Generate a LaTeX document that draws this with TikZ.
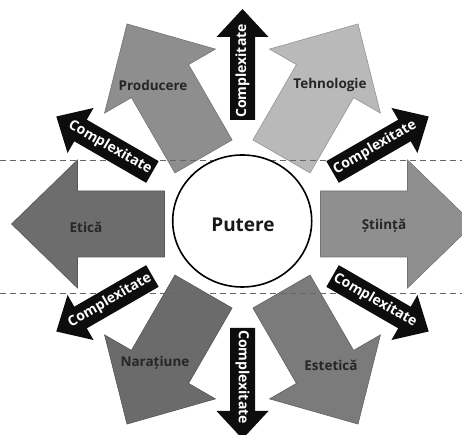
\documentclass[tikz,border=0pt]{standalone}
\usepackage{fontspec}
\setmainfont{Open Sans}
\definecolor{cEtica}{HTML}{6D6D6D}
\definecolor{cNarat}{HTML}{6B6B6B}
\definecolor{cProd}{HTML}{8E8E8E}
\definecolor{cStiinta}{HTML}{8F8F8F}
\definecolor{cEstet}{HTML}{7B7B7B}
\definecolor{cTehno}{HTML}{B9B9B9}
\tikzset{
  bigarr/.style={fill=#1, draw=#1!80!black, line width=0.6pt},
  blkarr/.style={fill=black!95},
  cxtext/.style={text=white, font=\fontsize{14}{14}\selectfont\bfseries, inner sep=0pt},
  lbl/.style={text=black!85, font=\fontsize{13.5}{13.5}\selectfont\bfseries, inner sep=1pt},
  dashline/.style={draw=black!60, dash pattern=on 6pt off 4pt, line width=0.8pt},
  hub/.style={draw=black, fill=white, line width=1.6pt},
}
\newcommand\BigArrow[2]{%
  \begin{scope}[shift={(242.5,211)}, rotate=#1]
    \path[bigarr=#2] (78,33) -- (165,33) -- (165,64) -- (231,0) -- (165,-64) -- (165,-33) -- (78,-33) -- cycle;
  \end{scope}}
\newcommand\CxArrow[3]{%
  \begin{scope}[shift={(242.5,211)}, rotate=#1]
    \path[blkarr] (104,12.5) -- (187,12.5) -- (187,26) -- (215,0) -- (187,-26) -- (187,-12.5) -- (104,-12.5) -- cycle;
    \node[cxtext, rotate=#2] (#3) at (153,0) {Complexitate};
  \end{scope}}
\begin{document}
\begin{tikzpicture}[x=1pt,y=1pt]
  \useasboundingbox (0,0) rectangle (462,435);
  \clip (0,0) rectangle (462,435);
  % big arrows
  \BigArrow{180}{cEtica}
  \BigArrow{0}{cStiinta}
  \BigArrow{120}{cProd}
  \BigArrow{60}{cTehno}
  \BigArrow{240}{cNarat}
  \BigArrow{300}{cEstet}
  % dashed guide lines
  \coordinate (d1a) at (0,275);
  \coordinate (d1b) at (462,275);
  \coordinate (d2a) at (0,142);
  \coordinate (d2b) at (462,142);
  \draw[dashline] (d1a) -- (d1b);
  \draw[dashline] (d2a) -- (d2b);
  % hub
  \path[hub] (242.2,214) ellipse [x radius=69.5, y radius=66];
  \node[font=\fontsize{19}{19}\selectfont\bfseries, text=black!90] (putere) at (243,210) {Putere};
  % complexity arrows
  \CxArrow{90}{90}{cx1}
  \CxArrow{270}{-90}{cx2}
  \CxArrow{150}{-30}{cx3}
  \CxArrow{30}{30}{cx4}
  \CxArrow{210}{30}{cx5}
  \CxArrow{330}{-30}{cx6}
  % labels
  \node[lbl] (producere) at (153,350) {Producere};
  \node[lbl] (tehnologie) at (330,350) {Tehnologie};
  \node[lbl] (etica) at (86,208) {Etică};
  \node[lbl] (stiinta) at (384,209) {Știință};
  \node[lbl] (naratiune) at (155,72) {Narațiune};
  \node[lbl] (estetica) at (331,70) {Estetică};
\end{tikzpicture}
\end{document}
